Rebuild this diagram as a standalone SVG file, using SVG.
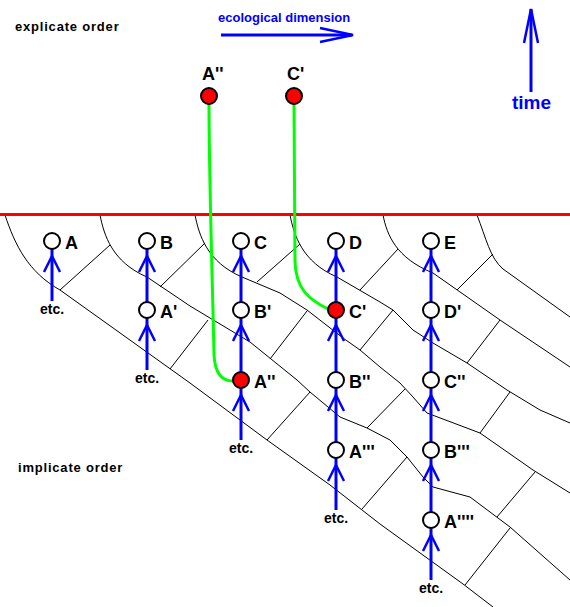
<svg xmlns="http://www.w3.org/2000/svg" width="570" height="607" viewBox="0 0 570 607">
<defs>
<style>
.grid{fill:none;stroke:#000;stroke-width:1}
.nd{fill:#fff;stroke:#000;stroke-width:2}
.rd{fill:#f00;stroke:#000;stroke-width:2}
.lbl{font-family:"Liberation Sans",Arial,sans-serif;font-weight:bold;font-size:18px;fill:#000}
.etc{font-family:"Liberation Sans",Arial,sans-serif;font-weight:bold;font-size:14px;fill:#000;text-anchor:middle}
.ord{font-family:"Liberation Sans",Arial,sans-serif;font-weight:bold;font-size:13px;fill:#000;letter-spacing:0.8px}
.blue{font-family:"Liberation Sans",Arial,sans-serif;font-weight:bold;fill:#00f}
.arr{stroke:#00f;stroke-width:3;fill:none}
.head{stroke:#00f;stroke-width:2.5;fill:none}
.grn{stroke:#0f0;stroke-width:3;fill:none}
</style>
</defs>
<rect width="570" height="607" fill="#fff"/>

<g id="grid">
<path class="grid" d="M5,215 C15,245 28,272 60,290 L190,383 L267,440 L330,485 L380,524 L463,584 L493,607"/>
<path class="grid" d="M100,215 C104,235 112,262 147,277 L190,306 L250,342 L297,380 L310,392 L340,417 L367,428 L390,440 L407,457 L423,477 L433,487 L470,497 L510,527 L570,580"/>
<path class="grid" d="M195,215 C199,235 207,262 242,277 L280,293 L307,310 L343,338 L360,350 L380,367 L400,383 L413,397 L427,413 L480,433 L533,470 L570,493"/>
<path class="grid" d="M290,215 C294,235 302,262 337,277 L380,302 L393,310 L413,330 L433,343 L467,363 L507,390 L540,410 L570,423"/>
<path class="grid" d="M383,215 C387,235 396,258 433,273 L500,320 L570,367"/>
<path class="grid" d="M477,215 C486,238 490,258 503,269 L570,317"/>
<path class="grid" d="M60,290 L110,245 M160,287 L205,243 M257,282 L300,244 M360,290 L398,249 M457,290 L493,254 M170,369 L208,320 M270,359 L307,311 M360,350 L393,310 M467,363 L500,320 M267,440 L310,392 M367,428 L405,389 M480,433 L510,392 M362,509 L407,457 M497,517 L535,472 M465,585 L510,528"/>
</g>

<rect x="0" y="213" width="570" height="3" fill="#f00"/>

<text class="ord" x="15" y="31">explicate order</text>
<text class="ord" x="18" y="472">implicate order</text>
<text class="blue" x="218" y="22" font-size="13">ecological dimension</text>
<path class="arr" d="M221,35 L352,35" stroke-width="2.5"/>
<path class="head" d="M320,28 L353,35 L320,42" stroke-width="2"/>
<path class="arr" d="M531,92 L531,9" stroke-width="2.5"/>
<path class="head" d="M524,43 L531,9 L538,43" stroke-width="2"/>
<text class="blue" x="512" y="109" font-size="19">time</text>

<g id="connectors">
<path class="grn" d="M209,104 C209,180 213,300 214,355 C215,374 222,381 233,381"/>
<path class="grn" d="M294,104 L295,262 C296,290 310,300 328,309"/>
<path class="arr" d="M52,301 V241 M147,370 V241 M241,440 V241 M336,510 V241 M431,580 V241"/>
<path class="head" d="M44,272 L52,256 L60,272 M139,272 L147,256 L155,272 M139,341 L147,325 L155,341 M233,272 L241,256 L249,272 M233,341 L241,325 L249,341 M233,411 L241,395 L249,411 M328,272 L336,256 L344,272 M328,341 L336,325 L344,341 M328,411 L336,395 L344,411 M328,481 L336,465 L344,481 M423,272 L431,256 L439,272 M423,341 L431,325 L439,341 M423,411 L431,395 L439,411 M423,481 L431,465 L439,481 M423,551 L431,535 L439,551"/>
</g>
<g id="etc-labels">
<text class="etc" x="52" y="314">etc.</text>
<text class="etc" x="147" y="383">etc.</text>
<text class="etc" x="241" y="453">etc.</text>
<text class="etc" x="336" y="523">etc.</text>
<text class="etc" x="431" y="593">etc.</text>
</g>

<g id="n-A2top"><circle class="rd" cx="209" cy="96" r="8"/><text class="lbl" x="202" y="80">A''</text></g>
<g id="n-C1top"><circle class="rd" cx="294" cy="96" r="8"/><text class="lbl" x="287" y="80">C'</text></g>

<g id="n-A"><circle class="nd" cx="52" cy="241" r="8"/><text class="lbl" x="65" y="249">A</text></g>
<g id="n-B"><circle class="nd" cx="147" cy="241" r="8"/><text class="lbl" x="160" y="249">B</text></g>
<g id="n-C"><circle class="nd" cx="241" cy="241" r="8"/><text class="lbl" x="254" y="249">C</text></g>
<g id="n-D"><circle class="nd" cx="336" cy="241" r="8"/><text class="lbl" x="349" y="249">D</text></g>
<g id="n-E"><circle class="nd" cx="431" cy="241" r="8"/><text class="lbl" x="444" y="249">E</text></g>

<g id="n-A1"><circle class="nd" cx="147" cy="310" r="8"/><text class="lbl" x="160" y="318">A'</text></g>
<g id="n-B1"><circle class="nd" cx="241" cy="310" r="8"/><text class="lbl" x="254" y="318">B'</text></g>
<g id="n-C1"><circle class="rd" cx="336" cy="310" r="8"/><text class="lbl" x="349" y="318">C'</text></g>
<g id="n-D1"><circle class="nd" cx="431" cy="310" r="8"/><text class="lbl" x="444" y="318">D'</text></g>

<g id="n-A2"><circle class="rd" cx="241" cy="380" r="8"/><text class="lbl" x="254" y="388">A''</text></g>
<g id="n-B2"><circle class="nd" cx="336" cy="380" r="8"/><text class="lbl" x="349" y="388">B''</text></g>
<g id="n-C2"><circle class="nd" cx="431" cy="380" r="8"/><text class="lbl" x="444" y="388">C''</text></g>

<g id="n-A3"><circle class="nd" cx="336" cy="450" r="8"/><text class="lbl" x="349" y="458">A'''</text></g>
<g id="n-B3"><circle class="nd" cx="431" cy="450" r="8"/><text class="lbl" x="444" y="458">B'''</text></g>

<g id="n-A4"><circle class="nd" cx="431" cy="520" r="8"/><text class="lbl" x="444" y="528">A''''</text></g>
</svg>
